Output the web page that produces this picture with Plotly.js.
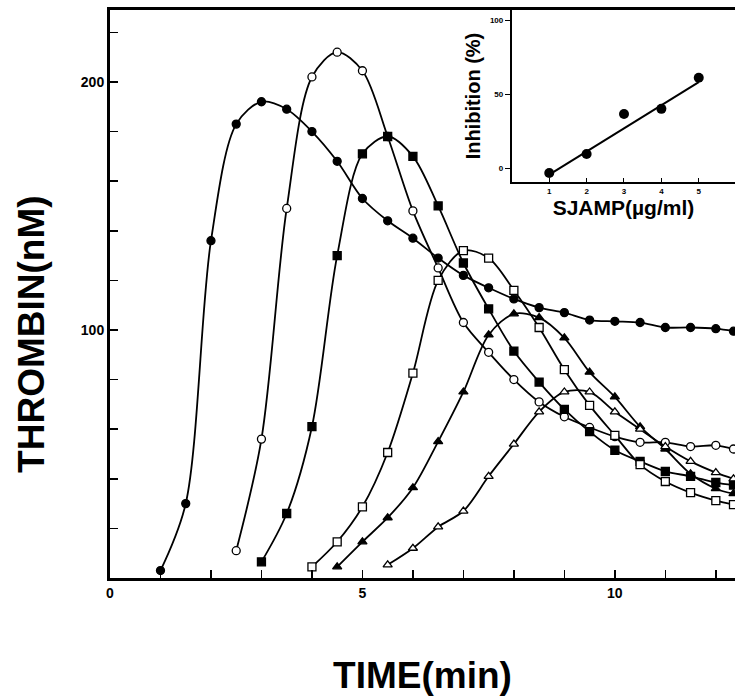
<!DOCTYPE html>
<html>
<head>
<meta charset="utf-8">
<script src="https://cdn.plot.ly/plotly-3.0.1.min.js"></script>
<style>html,body{margin:0;padding:0;background:#fff;}#chart{width:735px;height:699px;}</style>
</head>
<body>
<div id="chart"></div>
<script>
// ---- main panel data: thrombin (nM) vs time (min) ----
const timeFilledCircle = [1, 1.5, 2, 2.5, 3, 3.5, 4, 4.5, 5, 5.5, 6, 6.5, 7, 7.5, 8, 8.5, 9, 9.5, 10, 10.5, 11, 11.5, 12, 12.35];
const thrombinFilledCircle = [3, 30, 136, 183, 192, 189, 180, 168, 153, 144, 137, 129, 122, 117, 112.5, 109, 107, 104, 103.5, 103, 101, 101, 100.5, 99.5];

const timeOpenCircle = [2.5, 3, 3.5, 4, 4.5, 5, 5.5, 6, 6.5, 7, 7.5, 8, 8.5, 9, 9.5, 10, 10.5, 11, 11.5, 12, 12.35];
const thrombinOpenCircle = [11, 56, 149, 202, 212, 204.5, 178, 148, 125, 103, 91, 80, 71, 65, 60.7, 57, 54.7, 54.7, 53, 53.5, 52];

const timeFilledSquare = [3, 3.5, 4, 4.5, 5, 5.5, 6, 6.5, 7, 7.5, 8, 8.5, 9, 9.5, 10, 10.5, 11, 11.5, 12, 12.35];
const thrombinFilledSquare = [6.5, 26, 61, 130, 171, 178, 170, 150, 127, 108.5, 91.5, 79, 68, 59, 51.5, 47, 43, 41, 38.5, 37.5];

const timeOpenSquare = [4, 4.5, 5, 5.5, 6, 6.5, 7, 7.5, 8, 8.5, 9, 9.5, 10, 10.5, 11, 11.5, 12, 12.35];
const thrombinOpenSquare = [4.5, 14.6, 28.7, 50.6, 82.6, 120, 132, 129, 116, 101, 84, 69.6, 57.5, 45.7, 38.9, 34.4, 31.2, 29.6];

const timeFilledTriangle = [4.5, 5, 5.5, 6, 6.5, 7, 7.5, 8, 8.5, 9, 9.5, 10, 10.5, 11, 11.5, 12, 12.35];
const thrombinFilledTriangle = [4.5, 14.6, 24.3, 36.4, 55, 75, 98, 106.5, 105, 96.8, 83, 73, 61, 52, 42, 36, 34];

const timeOpenTriangle = [5.5, 6, 6.5, 7, 7.5, 8, 8.5, 9, 9.5, 10, 10.5, 11, 11.5, 12, 12.35];
const thrombinOpenTriangle = [5.3, 12, 20.6, 27, 41, 54, 67, 75, 75, 67, 60, 53, 47, 42.5, 40];

const xTickVals = [0, 1, 2, 3, 4, 5, 6, 7, 8, 9, 10, 11, 12];
const xTickText = ['0', '', '', '', '', '5', '', '', '', '', '10', '', ''];
const yTickVals = [0, 20, 40, 60, 80, 100, 120, 140, 160, 180, 200, 220];
const yTickText = ['', '', '', '', '', '100', '', '', '', '', '200', ''];

// ---- inset data: inhibition (%) vs SJAMP dose ----
const sjampDose = [1, 2, 3, 4, 5];
const inhibition = [-3.4, 9.5, 36.5, 40, 61];
const fitDose = [1, 5];
const fitInhibition = [-4.5, 58];
const insetXTicks = [1, 2, 3, 4, 5];
const insetXTickText = ['1', '2', '3', '4', '5'];
const insetYTicks = [0, 50, 100];
const insetYTickText = ['0', '50', '100'];

const FONT = 'Liberation Sans, Arial, Helvetica, sans-serif';
const lineStyle = {color: 'black', width: 1.8, shape: 'spline', smoothing: 0.9};

function series(x, y, symbol, filled) {
  return {
    x: x, y: y, type: 'scatter', mode: 'lines+markers',
    xaxis: 'x', yaxis: 'y',
    line: lineStyle,
    marker: {
      symbol: symbol, size: 8,
      color: filled ? 'black' : 'white',
      line: {color: 'black', width: 1.3}
    },
    hoverinfo: 'x+y'
  };
}

const traces = [
  series(timeFilledCircle, thrombinFilledCircle, 'circle', true),
  series(timeOpenCircle, thrombinOpenCircle, 'circle', false),
  series(timeFilledSquare, thrombinFilledSquare, 'square', true),
  series(timeOpenSquare, thrombinOpenSquare, 'square', false),
  series(timeFilledTriangle, thrombinFilledTriangle, 'triangle-up', true),
  series(timeOpenTriangle, thrombinOpenTriangle, 'triangle-up', false),
  {
    x: fitDose, y: fitInhibition, type: 'scatter', mode: 'lines',
    xaxis: 'x2', yaxis: 'y2', line: {color: 'black', width: 2}
  },
  {
    x: sjampDose, y: inhibition, type: 'scatter', mode: 'markers',
    xaxis: 'x2', yaxis: 'y2',
    marker: {symbol: 'circle', size: 10, color: 'black'}
  }
];

const layout = {
  width: 735, height: 699,
  margin: {l: 110, r: 0, t: 10, b: 121},
  paper_bgcolor: 'white', plot_bgcolor: 'white',
  showlegend: false,
  font: {family: FONT, color: 'black'},
  xaxis: {
    domain: [0, 1],
    range: [0, 12.38],
    tickmode: 'array', tickvals: xTickVals, ticktext: xTickText,
    ticks: 'inside', ticklen: 8, tickwidth: 1.5, tickcolor: 'black',
    showline: true, linewidth: 3, linecolor: 'black', mirror: true,
    showgrid: false, zeroline: false,
    tickfont: {family: FONT, size: 14, color: 'black', weight: 'bold'},
    title: {text: 'TIME(min)', font: {family: FONT, size: 37, color: 'black', weight: 'bold'}, standoff: 63}
  },
  yaxis: {
    domain: [0, 1],
    range: [0, 229],
    tickmode: 'array', tickvals: yTickVals, ticktext: yTickText,
    ticks: 'inside', ticklen: 8, tickwidth: 1.5, tickcolor: 'black',
    showline: true, linewidth: 3, linecolor: 'black',
    showgrid: false, zeroline: false,
    tickfont: {family: FONT, size: 14, color: 'black', weight: 'bold'}
  },
  xaxis2: {
    domain: [0.643, 1],
    anchor: 'y2',
    range: [0, 5.97],
    tickmode: 'array', tickvals: insetXTicks, ticktext: insetXTickText,
    ticks: 'inside', ticklen: 4, tickwidth: 1, tickcolor: 'black',
    showline: true, linewidth: 2, linecolor: 'black',
    showgrid: false, zeroline: false,
    tickfont: {family: FONT, size: 8, color: 'black', weight: 'bold'},
    title: {text: 'SJAMP(µg/ml)', font: {family: FONT, size: 21, color: 'black', weight: 'bold'}, standoff: 6}
  },
  yaxis2: {
    domain: [0.697, 1],
    anchor: 'x2',
    range: [-9.5, 106.8],
    tickmode: 'array', tickvals: insetYTicks, ticktext: insetYTickText,
    ticks: 'outside', ticklen: 5, tickwidth: 1, tickcolor: 'black',
    showline: true, linewidth: 2, linecolor: 'black',
    showgrid: false, zeroline: false,
    tickfont: {family: FONT, size: 8, color: 'black', weight: 'bold'},
    title: {text: 'Inhibition (%)', font: {family: FONT, size: 20, color: 'black', weight: 'bold'}, standoff: 4}
  },
  annotations: [{
    text: 'THROMBIN(nM)', textangle: -90,
    xref: 'paper', yref: 'paper', x: -0.1248, y: 0.428,
    xanchor: 'center', yanchor: 'middle', showarrow: false,
    font: {family: FONT, size: 37, color: 'black', weight: 'bold'}
  }]
};

Plotly.newPlot('chart', traces, layout, {displayModeBar: false, staticPlot: true});
</script>
</body>
</html>
